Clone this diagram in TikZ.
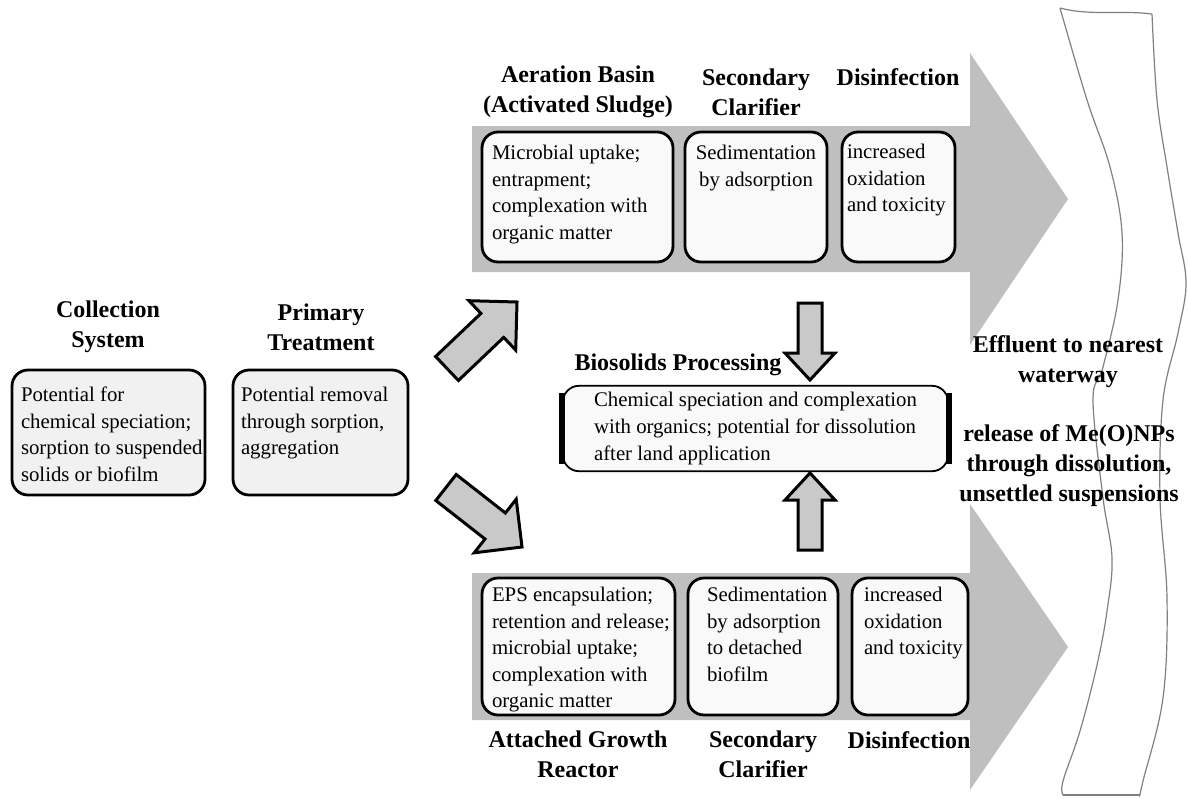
\documentclass[tikz,border=0pt]{standalone}
\usepackage{fontspec}
\setmainfont{Liberation Serif}

\definecolor{bandgray}{gray}{0.75}
\definecolor{arrowgray}{gray}{0.79}
\definecolor{boxfill}{gray}{0.975}
\definecolor{leftfill}{gray}{0.945}
\definecolor{watergray}{gray}{0.5}

\tikzset{
  stagehead/.style={font=\fontsize{12}{15}\selectfont\bfseries, align=center, inner sep=0pt},
  stagebox/.style={draw, line width=1.4pt, rounded corners=8pt, fill=boxfill, inner sep=0pt},
  stagetext/.style={font=\fontsize{10.4}{13.3}\selectfont, align=left, inner sep=0pt, anchor=north west},
  blockarrow/.style={draw, line width=1.5pt, fill=arrowgray, line join=miter},
  band/.style={fill=bandgray},
  waterline/.style={draw=watergray, line width=0.6pt}
}

\begin{document}
\begin{tikzpicture}[x=0.5pt, y=-0.5pt]
    \useasboundingbox (0,0) rectangle (1188,798);

    % Grey process bands with their heads
    \fill[band] (472,126) -- (970,126) -- (970,53) -- (1068,199) -- (970,345) -- (970,272) -- (472,272) -- cycle;
    \fill[band] (472,573) -- (970,573) -- (970,504) -- (1068,647) -- (970,790) -- (970,720) -- (472,720) -- cycle;

    % Waterway
    \draw[waterline] plot[smooth, tension=0.6] coordinates {(1060,8) (1087,100) (1110,167) (1122,233) (1118,300) (1103,367) (1093,400) (1103,498) (1112,558) (1107,611) (1097,665) (1080,731) (1063,781) (1063,795)};
    \draw[waterline] plot[smooth, tension=0.6] coordinates {(1152,14) (1157,100) (1167,167) (1178,233) (1186,283) (1178,333) (1163,400) (1160,498) (1167,598) (1163,698) (1143,781) (1140,795)};
    \draw[waterline] (1060,8) .. controls (1090,16) and (1120,10) .. (1152,14);
    \draw[waterline] (1063,795) -- (1140,795);

    % Collection and primary treatment
    \node[stagehead] (colhead) at (108,327) {Collection\\System};
    \node[stagehead] (prihead) at (321,327) {Primary\\Treatment};
    \node[stagebox, fill=leftfill, minimum width=96.5pt, minimum height=62.5pt] (col) at (108.5,432.5) {};
    \node[stagebox, fill=leftfill, minimum width=87.5pt, minimum height=62.5pt] (pri) at (320.5,432.5) {};
    \node[stagetext] (coltext) at ([xshift=5pt, yshift=-9pt]col.north west) {Potential for\\chemical speciation;\\sorption to suspended\\solids or biofilm};
    \node[stagetext] (pritext) at ([xshift=4.5pt, yshift=-9pt]pri.north west) {Potential removal\\through sorption,\\aggregation};

    % Activated sludge line
    \node[stagehead] (aerhead) at (578,92) {Aeration Basin\\(Activated Sludge)};
    \node[stagehead] (sec1head) at (756,92) {Secondary\\Clarifier};
    \node[stagehead] (dis1head) at (898,77) {Disinfection};
    \node[stagebox, minimum width=95.5pt, minimum height=65pt] (aer) at (577.5,197) {};
    \node[stagebox, minimum width=71pt, minimum height=65pt] (sec1) at (756,197) {};
    \node[stagebox, minimum width=56.5pt, minimum height=65pt] (dis1) at (898.5,197) {};
    \node[stagetext] (aertext) at ([xshift=5.5pt, yshift=-7pt]aer.north west) {Microbial uptake;\\entrapment;\\complexation with\\organic matter};
    \node[stagetext, align=center, anchor=north] (sec1text) at ([yshift=-7pt]sec1.north) {Sedimentation\\by adsorption};
    \node[stagetext] (dis1text) at ([xshift=3pt, yshift=-6.5pt]dis1.north west) {increased\\oxidation\\and toxicity};

    % Attached growth line
    \node[stagebox, minimum width=96.5pt, minimum height=68.5pt] (att) at (578.5,646.5) {};
    \node[stagebox, minimum width=75pt, minimum height=68.5pt] (sec2) at (763,646.5) {};
    \node[stagebox, minimum width=58pt, minimum height=68.5pt] (dis2) at (910,646.5) {};
    \node[stagetext] (atttext) at ([xshift=5.5pt, yshift=-5pt]att.north west) {EPS encapsulation;\\retention and release;\\microbial uptake;\\complexation with\\organic matter};
    \node[stagetext] (sec2text) at ([xshift=10pt, yshift=-5pt]sec2.north west) {Sedimentation\\by adsorption\\to detached\\biofilm};
    \node[stagetext] (dis2text) at ([xshift=6.5pt, yshift=-5pt]dis2.north west) {increased\\oxidation\\and toxicity};
    \node[stagehead] (atthead) at (578,754) {Attached Growth\\Reactor};
    \node[stagehead] (sec2head) at (763,754) {Secondary\\Clarifier};
    \node[stagehead] (dis2head) at (909,740) {Disinfection};

    % Biosolids processing
    \node[stagehead] (biohead) at (678,365) {Biosolids Processing};
    \node[draw, line width=0.9pt, rounded corners=8pt, fill=boxfill, minimum width=192.5pt, minimum height=41.5pt,
          font=\fontsize{10.4}{13.3}\selectfont, align=left] (bio) at (755.5,428.5)
          {Chemical speciation and complexation\\with organics; potential for dissolution\\after land application};
    \draw[line width=3pt] ([yshift=-4pt]bio.north west) -- ([yshift=4pt]bio.south west);
    \draw[line width=3pt] ([yshift=-4pt]bio.north east) -- ([yshift=4pt]bio.south east);

    % Block arrows
    \draw[blockarrow] (435.6,356.5) -- (480.9,313.4) -- (468.9,300.7) -- (517,302) -- (515.7,350.1) -- (503.7,337.4) -- (458.4,380.5) -- cycle;
    \draw[blockarrow] (435.8,500.5) -- (456.2,474.5) -- (505.4,513) -- (516.2,499.2) -- (522,547) -- (474.2,552.8) -- (485,539) -- cycle;
    \draw[blockarrow] (798,303) -- (822,303) -- (822,353) -- (835,353) -- (810,380) -- (785,353) -- (798,353) -- cycle;
    \draw[blockarrow] (798,550) -- (822,550) -- (822,500) -- (835,500) -- (810,473) -- (785,500) -- (798,500) -- cycle;

    % Effluent
    \node[stagehead] (effhead) at (1068,362) {Effluent to nearest\\waterway};
    \node[stagehead] (relhead) at (1069,466) {release of Me(O)NPs\\through dissolution,\\unsettled suspensions};
\end{tikzpicture}
\end{document}
